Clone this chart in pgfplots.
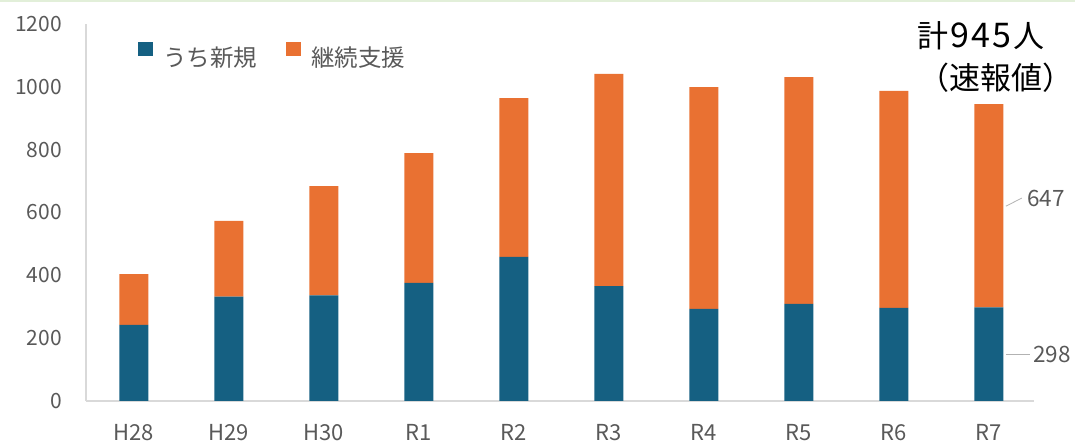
\documentclass[border=0pt]{standalone}
\usepackage{fontspec}
\setmainfont{Noto Sans CJK JP}
\usepackage{pgfplots}
\pgfplotsset{compat=1.18}
\definecolor{cblue}{HTML}{156082}
\definecolor{corange}{HTML}{E97132}
\definecolor{tgray}{HTML}{595959}
\definecolor{agray}{HTML}{D9D9D9}
\definecolor{topgreen}{HTML}{E2EFD9}
\pgfplotsset{sqlegend/.style={legend image code/.code={\fill[##1] (0bp,1.5bp) rectangle (15bp,16bp);}}}
\begin{document}
\begin{tikzpicture}[x=1bp,y=1bp]
\path[use as bounding box] (0,0) rectangle (1075,443);
\fill[topgreen] (0,441) rectangle (1075,443);
\begin{axis}[
  at={(86bp,42bp)}, anchor=south west,
  scale only axis, width=948bp, height=377bp,
  ybar stacked, bar width=29bp,
  xmin=-0.505, xmax=9.475, ymin=0, ymax=1200,
  xtick={0,...,9}, xticklabels={H28,H29,H30,R1,R2,R3,R4,R5,R6,R7},
  ytick={0,200,...,1200},
  /pgf/number format/assume math mode=true,
  /pgf/number format/1000 sep={},
  major tick length=0pt,
  axis lines=left,
  axis line style={-, draw=agray, line width=1.5bp},
  ticklabel style={text=tgray, inner sep=0pt},
  yticklabel style={anchor=east, xshift=-24bp, font=\fontsize{21bp}{21bp}\selectfont},
  xticklabel style={anchor=north, yshift=-23.5bp, font=\fontsize{22bp}{22bp}\selectfont},
  clip=false,
  legend columns=2,
  legend style={draw=none, fill=none, at={(0.0549,0.9178)}, anchor=west, inner sep=0pt,
    font=\fontsize{23.5bp}{23.5bp}\selectfont, text=tgray,
    nodes={inner sep=0pt},
    /tikz/every odd column/.append style={column sep=10bp},
    /tikz/every even column/.append style={column sep=29bp}},
]
\addplot[fill=cblue, draw=none, sqlegend] coordinates {
 (0,242) (1,332) (2,336) (3,376) (4,459) (5,366) (6,293) (7,309) (8,296) (9,298)};
\addlegendentry{うち新規}
\addplot[fill=corange, draw=none, sqlegend] coordinates {
 (0,162) (1,241) (2,348) (3,413) (4,505) (5,675) (6,706) (7,722) (8,691) (9,647)};
\addlegendentry{継続支援}
\draw[gray!60, line width=0.8bp] (axis cs:9.179,620) -- (axis cs:9.347,646);
\node[anchor=west, inner sep=0pt, text=tgray, font=\fontsize{22.5bp}{22.5bp}\selectfont] at (axis cs:9.40,646) {647};
\draw[gray!60, line width=0.8bp] (axis cs:9.179,147) -- (axis cs:9.432,147);
\node[anchor=west, inner sep=0pt, text=tgray, font=\fontsize{22.5bp}{22.5bp}\selectfont] at (axis cs:9.463,147) {298};
\end{axis}
\node[font=\fontsize{31bp}{31bp}\selectfont, inner sep=0pt] at (981,407) {計{\fontsize{34bp}{34bp}\selectfont\hspace{2bp}9\hspace{2.5bp}4\hspace{2.5bp}5\hspace{2bp}}人};
\node[font=\fontsize{31bp}{31bp}\selectfont, inner sep=0pt] at (996,365) {（速報値）};
\end{tikzpicture}
\end{document}
